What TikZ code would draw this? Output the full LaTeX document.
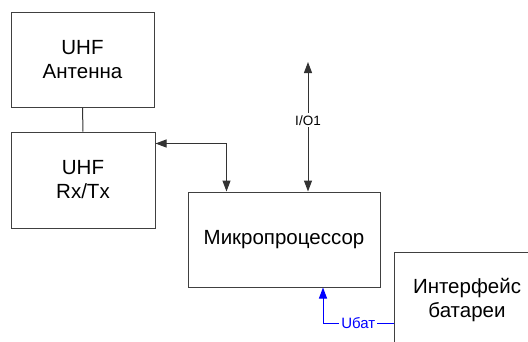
\documentclass[tikz,border=0pt]{standalone}
\usepackage{fontspec}
\setmainfont{Liberation Sans}
\usetikzlibrary{arrows.meta,positioning}

\tikzset{
	block/.style={draw=black!75, line width=1pt, align=center, inner sep=0pt, font=\fontsize{20.5}{24}\selectfont},
	link/.style={draw=black!80, line width=1pt},
	biarrow/.style={link, {Triangle[length=11pt,width=8pt]}-{Triangle[length=11pt,width=8pt]}},
	uarrow/.style={draw=blue, line width=1pt, -{Triangle[length=11pt,width=8pt]}},
	sig/.style={fill=white, inner sep=2pt, font=\fontsize{13.5}{16}\selectfont}
}

\begin{document}
\begin{tikzpicture}[x=1pt, y=-1pt]
		\clip (0,0) rectangle (528,341);
		\node[block, minimum width=143pt, minimum height=95pt] (ant) at (82.5,59.5) {UHF\\Антенна};
		\node[block, minimum width=144pt, minimum height=96pt] (rxtx) at (83,180) {UHF\\Rx/Tx};
		\node[block, minimum width=192pt, minimum height=95pt] (mcu) at (284,239.5) {Микропроцессор};
		\node[block, minimum width=146pt, minimum height=96pt] (bat) at (467,300) {Интерфейс\\батареи};
		\coordinate (io) at (308,62);
		\draw[link] (ant) -- (rxtx);
		\draw[biarrow] ([yshift=-12pt]rxtx.north east) -| ([xshift=39pt]mcu.north west);
		\draw[biarrow] (io) -- (io |- mcu.north) node[sig, pos=0.45] {I/O1};
		\draw[uarrow] ([yshift=-23pt]bat.west) -| ([xshift=39pt]mcu.south)
			node[sig, text=blue, pos=0.25, font=\fontsize{15}{18}\selectfont] {Uбат};
	\end{tikzpicture}
\end{document}
